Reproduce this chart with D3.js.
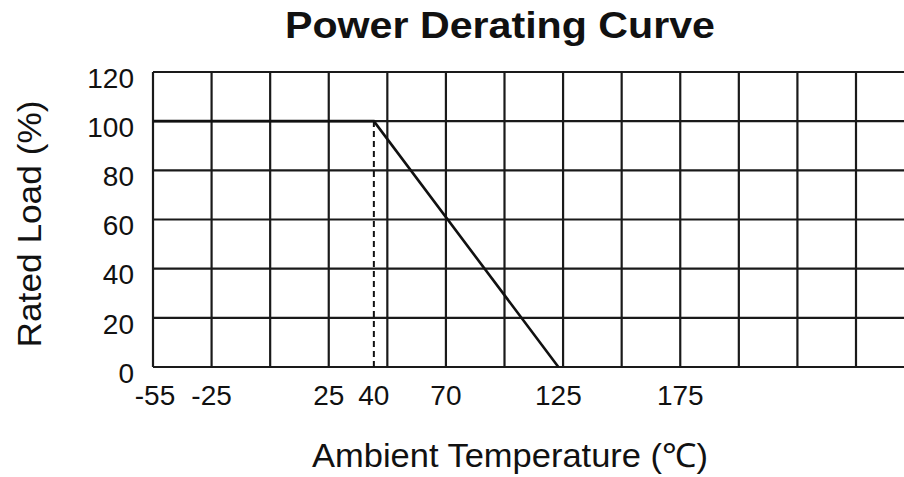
<!DOCTYPE html>
<html>
<head>
<meta charset="utf-8">
<script src="https://cdn.jsdelivr.net/npm/d3@7"></script>
<style>
  body { margin: 0; background: #fff; }
  text { font-family: "Liberation Sans", Arial, sans-serif; fill: #111; }
</style>
</head>
<body>
<div id="container"></div>
<script>
// data
let tempTicks = [-55, -25, 25, 40, 70, 125, 175];
let loadTicks = [0, 20, 40, 60, 80, 100, 120];
let curveTemp = [-55, 40, 125];
let curveLoad = [100, 100, 0];
let kneeTemp = 40;
let kneeLoad = 100;

// layout
let w = 904;
let h = 477;
let gridCols = 12;
// where each temperature tick sits in grid columns (chart is not to scale)
let tickCols = [0, 1, 3, 3.77, 5, 6.92, 9];

let viz = d3.select("#container")
  .append("svg")
    .attr("width", w)
    .attr("height", h)
    .style("background-color", "#ffffff")
;

let col = d3.scaleLinear().domain([0, gridCols]).range([153, 856]);
let xScale = d3.scaleLinear().domain(tempTicks).range(tickCols.map(col));
let yScale = d3.scaleLinear().domain([0, 120]).range([367, 72]);

// grid
let grid = viz.append("g").attr("class", "grid");

grid.selectAll(".vline").data(d3.range(0, gridCols + 1)).enter()
  .append("line")
    .attr("class", "vline")
    .attr("x1", d => col(d))
    .attr("x2", d => col(d))
    .attr("y1", yScale(120))
    .attr("y2", yScale(0))
    .attr("stroke", "#1a1a1a")
    .attr("stroke-width", 2.2)
;

grid.selectAll(".hline").data(loadTicks).enter()
  .append("line")
    .attr("class", "hline")
    .attr("x1", col(0))
    .attr("x2", w)
    .attr("y1", d => yScale(d))
    .attr("y2", d => yScale(d))
    .attr("stroke", "#1a1a1a")
    .attr("stroke-width", 2.2)
;

// y tick labels
viz.append("g").selectAll("text").data(loadTicks).enter()
  .append("text")
    .attr("x", 134)
    .attr("y", d => yScale(d) + 6)
    .attr("dy", "0.35em")
    .attr("text-anchor", "end")
    .style("font-size", "28px")
    .text(d => d)
;

// x tick labels
viz.append("g").selectAll("text").data(tempTicks).enter()
  .append("text")
    .attr("x", d => xScale(d) + (d == -55 ? 2 : 0))
    .attr("y", 405)
    .attr("text-anchor", "middle")
    .style("font-size", "28px")
    .text(d => d)
;

// dashed marker at the knee
viz.append("line")
    .attr("x1", xScale(kneeTemp))
    .attr("x2", xScale(kneeTemp))
    .attr("y1", yScale(0))
    .attr("y2", yScale(kneeLoad))
    .attr("stroke", "#111")
    .attr("stroke-width", 2)
    .attr("stroke-dasharray", "6,4")
;

// derating curve
let curve = curveTemp.map((t, i) => [t, curveLoad[i]]);
let line = d3.line().x(d => xScale(d[0])).y(d => yScale(d[1]));

viz.append("path")
    .datum(curve)
    .attr("d", line)
    .attr("fill", "none")
    .attr("stroke", "#111")
    .attr("stroke-width", 2.6)
    .attr("stroke-linejoin", "miter")
;

// titles
viz.append("text")
    .attr("x", 500)
    .attr("y", 38)
    .attr("text-anchor", "middle")
    .attr("textLength", 430)
    .attr("lengthAdjust", "spacingAndGlyphs")
    .style("font-size", "36px")
    .style("font-weight", "bold")
    .text("Power Derating Curve")
;

viz.append("text")
    .attr("x", 510)
    .attr("y", 467)
    .attr("text-anchor", "middle")
    .attr("textLength", 396)
    .attr("lengthAdjust", "spacingAndGlyphs")
    .style("font-size", "33px")
    .text("Ambient Temperature (℃)")
;

viz.append("text")
    .attr("transform", "translate(41,224) rotate(-90)")
    .attr("text-anchor", "middle")
    .attr("textLength", 247)
    .attr("lengthAdjust", "spacingAndGlyphs")
    .style("font-size", "33px")
    .text("Rated Load (%)")
;
</script>
</body>
</html>
